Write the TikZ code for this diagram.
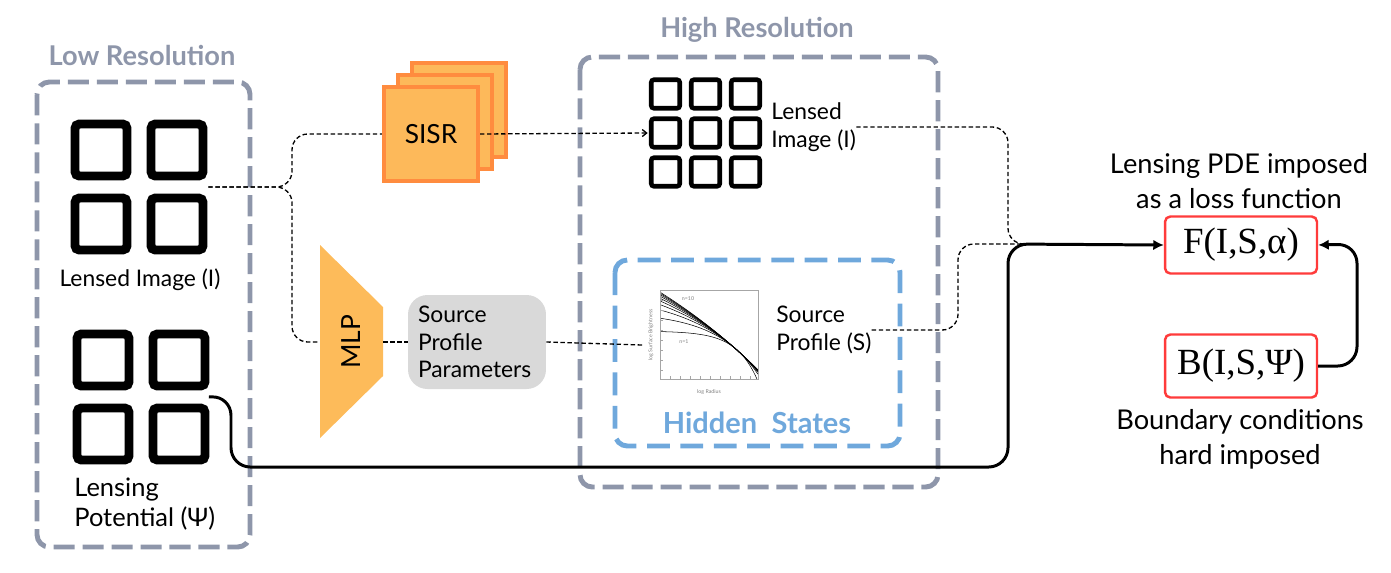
\documentclass[tikz,border=0pt]{standalone}
\usepackage{fontspec}
\setmainfont{Lato}
\newfontfamily\pdefont{Liberation Serif}
\usetikzlibrary{arrows.meta}
\definecolor{regiongrey}{HTML}{8E96AA}
\definecolor{hiddenblue}{HTML}{6FA8DC}
\definecolor{sisrfill}{HTML}{FDB95A}
\definecolor{sisredge}{HTML}{FF8C3F}
\definecolor{mlpfill}{HTML}{FDBB5A}
\definecolor{paramfill}{HTML}{D9D9D9}
\definecolor{pdered}{HTML}{FF3B3B}

\begin{document}
\begin{tikzpicture}[x=0.02cm, y=-0.02cm,
  region/.style={draw=regiongrey, line width=2.8pt, dash pattern=on 12pt off 4.5pt, rounded corners=7pt},
  hidden/.style={draw=hiddenblue, line width=2.8pt, dash pattern=on 13pt off 6pt, rounded corners=7pt},
  regiontitle/.style={font=\fontsize{15.5}{17}\selectfont\bfseries, text=regiongrey},
  txt/.style={font=\fontsize{13}{16}\selectfont, align=left, inner sep=0pt},
  bigtxt/.style={font=\fontsize{15.5}{20}\selectfont, align=center, inner sep=0pt},
  lrsq/.style={draw, line width=5.1pt, minimum size=1.04cm, rounded corners=2.5pt, inner sep=0pt},
  hrsq/.style={draw, line width=2.6pt, minimum size=0.57cm, rounded corners=1.5pt, inner sep=0pt},
  sisrsq/.style={draw=sisredge, fill=sisrfill, line width=2.3pt, minimum size=1.88cm, inner sep=0pt},
  pdebox/.style={draw=pdered, line width=1.4pt, rounded corners=3pt, minimum width=3.04cm, font=\pdefont\fontsize{21}{24}\selectfont},
  plottxt/.style={font=\fontsize{3}{3}\selectfont, text=gray},
  dashconn/.style={line width=0.75pt, dash pattern=on 2.5pt off 1.5pt, rounded corners=9pt},
  solidconn/.style={line width=1.7pt, rounded corners=11pt, -{Latex[length=6pt,width=6pt]}}
]
  \useasboundingbox (0,0) rectangle (1391,572);

  % regions
  \draw[region] (37,82) rectangle (250,547);
  \draw[region] (580,57) rectangle (938,487);
  \draw[hidden] (615,260) rectangle (900,446);
  \node[regiontitle] (lrtitle) at (142,55) {Low Resolution};
  \node[regiontitle] (hrtitle) at (757,30) {High Resolution};
  \node[regiontitle, text=hiddenblue, font=\fontsize{16.5}{18}\selectfont\bfseries] (hidtitle) at (757,423) {Hidden\hspace{0.5em}States};

  % low resolution inputs
  \node[minimum width=2.76cm, minimum height=2.72cm] (lrimg) at (139,187) {};
  \foreach \dx in {-38,38}
    \foreach \dy in {-37,37}
      \node[lrsq] at ([shift={(\dx,\dy)}]lrimg) {};
  \node[txt] (lrimglab) at (140,280) {Lensed Image (I)};

  \node[minimum width=2.7cm, minimum height=2.74cm] (lpot) at (141,397) {};
  \foreach \dx in {-38,38}
    \foreach \dy in {-37,37}
      \node[lrsq] at ([shift={(\dx,\dy)}]lpot) {};
  \node[txt, anchor=west, font=\fontsize{14.5}{17}\selectfont] (lpotlab) at (74,504) {Lensing\\Potential (Ψ)};

  % networks
  \node[sisrsq] (sisrb) at (459,110) {};
  \node[sisrsq] (sisrm) at (445,122) {};
  \node[sisrsq, font=\fontsize{15}{17}\selectfont] (sisr) at (431,134) {SISR};

  \fill[mlpfill] (320,245) -- (383,307) -- (383,376) -- (320,438) -- cycle;
  \node[minimum width=1.26cm, minimum height=1.38cm, inner sep=0pt, font=\fontsize{15}{17}\selectfont] (mlp) at (351.5,342) {\rotatebox{90}{MLP}};

  \node[fill=paramfill, rounded corners=11pt, minimum width=2.76cm, minimum height=1.88cm, text width=2.36cm, inner sep=0.2cm, align=left, font=\fontsize{13}{15.5}\selectfont] (params) at (477,342) {Source\\Profile\\Parameters};

  % high resolution outputs
  \node[minimum width=2.3cm, minimum height=2.2cm] (hrimg) at (705.5,133) {};
  \foreach \dx in {-40,0,40}
    \foreach \dy in {-39,0,39}
      \node[hrsq] at ([shift={(\dx,\dy)}]hrimg) {};
  \node[txt, anchor=west] (hrimglab) at (771,127) {Lensed\\Image (I)};

  \node[minimum width=2.34cm, minimum height=2.2cm] (prof) at (701,345) {};
  \begin{scope}
    \clip (660,290) rectangle (758,379);
    \foreach \n in {1,...,10}
      \draw[line width=0.3pt] plot[domain=-1.5:0.5, samples=40] ({660+49*(\x+1.5)}, {347+22*(2*\n-1/3)/ln(10)*(pow(10,\x/\n)-1)});
  \end{scope}
  \draw[gray!70, line width=0.4pt] (660,290) rectangle (758,379);
  \foreach \t in {670,680,...,750}
    \draw[gray!70, line width=0.3pt] (\t,379) -- (\t,376);
  \foreach \t in {300,310,...,370}
    \draw[gray!70, line width=0.3pt] (660,\t) -- (663,\t);
  \node[plottxt] at (688,299) {n=10};
  \node[plottxt] at (684,342) {n=1};
  \node[plottxt] at (709,392) {log Radius};
  \node[plottxt, rotate=90] at (651,335) {log Surface Brightness};
  \node[txt, anchor=west] (proflab) at (776,330) {Source\\Profile (S)};

  % physics constraints
  \node[pdebox, minimum height=1.14cm] (fbox) at (1241,245) {F(I,S,α)};
  \node[pdebox, minimum height=1.26cm] (bbox) at (1241,366) {B(I,S,Ψ)};
  \node[bigtxt] (fnote) at (1239,181) {Lensing PDE imposed\\as a loss function};
  \node[bigtxt] (bnote) at (1240,439) {Boundary conditions\\hard imposed};
  \coordinate (merge) at (1024,244);

  % connectors
  \draw[dashconn] (lrimg.east) -- (292,187) -- (292,134) -- (sisr.west);
  \draw[dashconn] (lrimg.east) -- (292,187) -- (292,342) -- (mlp.west);
  \draw[dashconn, -{Straight Barb[length=2.5pt,width=4pt]}] (sisr.east) -- (hrimg.west);
  \draw[dashconn] (mlp.east) -- (params.west);
  \draw[dashconn] (params.east) -- (prof.west);
  \draw[dashconn] (hrimglab.east) -- (1008,127) -- (1008,244) -- (merge);
  \draw[dashconn] (proflab.east) -- (958,330) -- (958,244) -- (merge);
  \draw[solidconn] (lpot.east) -- (231,396) -- (231,467) -- (1008,467) -- (1008,244) -- (fbox.west);
  \draw[solidconn] (bbox.east) -- (1357,366) -- (1357,244) -- (fbox.east);
\end{tikzpicture}
\end{document}
